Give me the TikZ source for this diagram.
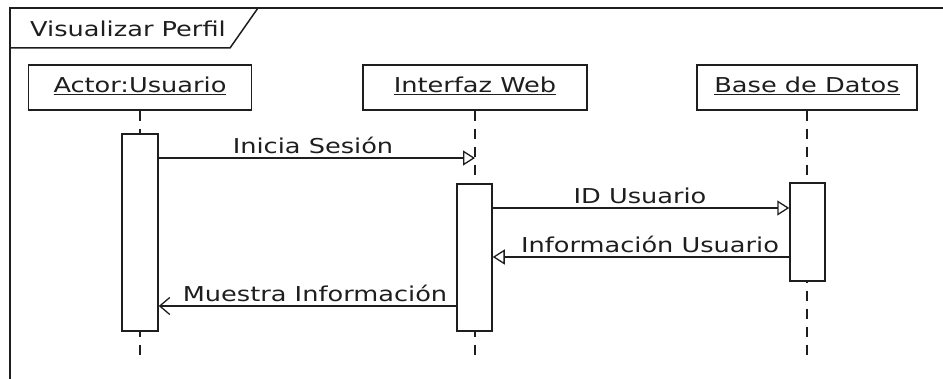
\documentclass[tikz,border=0pt]{standalone}
\usepackage{fontspec}
\setmainfont[FakeStretch=1.25]{DejaVu Sans}
\usetikzlibrary{arrows.meta}

\definecolor{ink}{HTML}{1E1E1E}

\tikzset{
  umlline/.style={draw=ink, line width=1.5pt},
  headbox/.style={umlline, fill=white, minimum height=45pt, inner sep=0pt},
  actbox/.style={umlline, fill=white, inner sep=0pt},
  lifeline/.style={draw=ink, line width=1.5pt, dash pattern=on 10pt off 8pt},
  syncmsg/.style={umlline, -{Triangle[open, length=12pt, width=15pt, line width=1.3pt]}},
  replymsg/.style={umlline, -{Straight Barb[length=10pt, width=17pt, line width=1.3pt]}},
  txt/.style={text=ink, font=\fontsize{20.5}{24}\selectfont, inner sep=0pt},
}

\begin{document}
\begin{tikzpicture}[x=1pt, y=-1pt]
  \useasboundingbox (0,0) rectangle (943,379);
  \fill[white] (0,0) rectangle (943,379);

  % sequence frame and its name tab
  \draw[umlline] (960,8) -- (10,8) -- (10,400);
  \draw[umlline] (10,48) -- (230,48) -- (258,8);
  \node[txt, anchor=base west] (frametitle) at (30,36.5) {Visualizar Perfil};

  % lifeline heads
  \node[headbox, minimum width=223pt] (actor) at (140,87.5) {};
  \node[headbox, minimum width=224pt] (web)   at (475,87.5) {};
  \node[headbox, minimum width=220pt] (db)    at (807,87.5) {};
  \node[txt, anchor=base] (actorlbl) at (140,93) {\underline{Actor:Usuario}};
  \node[txt, anchor=base] (weblbl)   at (475,93) {\underline{Interfaz Web}};
  \node[txt, anchor=base] (dblbl)    at (807,93) {\underline{Base de Datos}};

  % lifeline ends
  \coordinate (actorend) at (140,358);
  \coordinate (webend)   at (475,358);
  \coordinate (dbend)    at (807,358);
  \draw[lifeline] (actor.south) -- (actorend);
  \draw[lifeline] (web.south)   -- (webend);
  \draw[lifeline] (db.south)    -- (dbend);

  % activation bars
  \node[actbox, minimum width=36pt, minimum height=197pt] (actA) at (140,232.5) {};
  \node[actbox, minimum width=35pt, minimum height=147pt] (actW) at (474.5,257.5) {};
  \node[actbox, minimum width=35pt, minimum height=98pt]  (actD) at (807.5,232) {};

  % message levels
  \coordinate (m1) at (0,158);
  \coordinate (m2) at (0,208);
  \coordinate (m3) at (0,257);
  \coordinate (m4) at (0,306);

  % messages
  \draw[syncmsg]  (actA.east |- m1) -- (web.south |- m1);
  \draw[syncmsg]  (actW.east |- m2) -- (actD.west |- m2);
  \draw[syncmsg]  (actD.west |- m3) -- (actW.east |- m3);
  \draw[replymsg] (actW.west |- m4) -- (actA.east |- m4);

  \node[txt, anchor=base] (lbl1) at (313,154) {Inicia Sesión};
  \node[txt, anchor=base] (lbl2) at (640,204) {ID Usuario};
  \node[txt, anchor=base] (lbl3) at (650,253) {Información Usuario};
  \node[txt, anchor=base] (lbl4) at (315,302) {Muestra Información};
\end{tikzpicture}
\end{document}
